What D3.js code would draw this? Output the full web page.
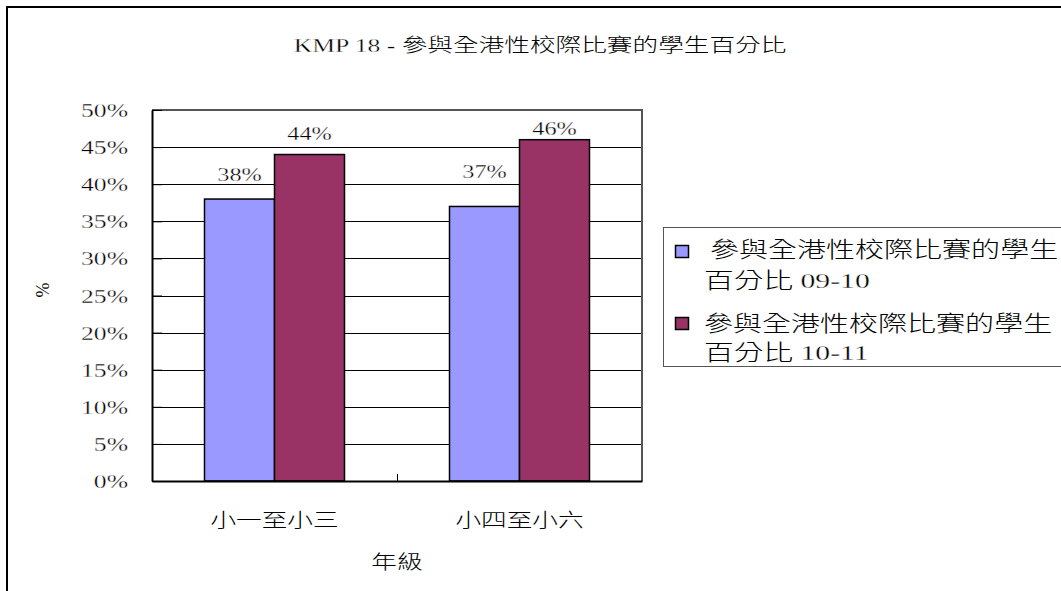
<!DOCTYPE html>
<html>
<head>
<meta charset="utf-8">
<script src="https://cdn.jsdelivr.net/npm/d3@7"></script>
<style>
  body { margin: 0; background: #fff; }
  svg { display: block; }
  text { font-family: "Liberation Serif", "Times New Roman", serif; fill: #000; }
  tspan.lat { stroke: #fff; stroke-width: 0.3px; }
  tspan.cjk { font-family: "Noto Sans CJK TC", sans-serif; font-weight: 300; stroke: none; }
</style>
</head>
<body>
<svg id="chart"></svg>
<script>
// chart data
var categories = ["小一至小三", "小四至小六"];
var seriesNames = ["參與全港性校際比賽的學生百分比 09-10", "參與全港性校際比賽的學生百分比 10-11"];
var values0910 = [0.38, 0.37];
var values1011 = [0.44, 0.46];
var yTicks = [0, 0.05, 0.10, 0.15, 0.20, 0.25, 0.30, 0.35, 0.40, 0.45, 0.50];
var colors = ["#9999ff", "#993366"];

var W = 1061, H = 591;
var plot = { left: 152, right: 642, top: 110, bottom: 481 };
// the original picture is stretched sideways, so every label is too
var sx = 1.35;
// gap between bar top and its value label, [series][category], as in the original
var labelLift = [[18, 28], [15, 5]];

var svg = d3.select("#chart").attr("width", W).attr("height", H);

// put a text at (x, y), stretched horizontally around its anchor;
// chinese runs get the CJK font, the rest stays serif
function label(parent, x, y, str, size, anchor) {
  var g = parent.append("g")
    .attr("transform", "translate(" + x + "," + y + ") scale(" + sx + ",1)");
  var t = g.append("text")
    .attr("text-anchor", anchor || "start")
    .style("font-size", size + "px");
  var runs = str.match(/[\u3000-\u9fff]+|[^\u3000-\u9fff]+/g);
  runs.forEach(function(r) {
    t.append("tspan")
      .attr("class", /[\u3000-\u9fff]/.test(r) ? "cjk" : "lat")
      .text(r);
  });
  return g;
}

// outer chart frame (runs off the right and bottom edges)
svg.append("rect")
  .attr("x", 7).attr("y", 7)
  .attr("width", 1100).attr("height", 620)
  .attr("fill", "#fff")
  .attr("stroke", "#000")
  .attr("stroke-width", 2);

var x = d3.scaleBand()
  .domain(categories)
  .range([plot.left, plot.right])
  .paddingInner(0).paddingOuter(0);

var xs = d3.scaleBand()
  .domain(d3.range(seriesNames.length))
  .range([0, x.bandwidth()])
  .paddingInner(0).paddingOuter(0.75);

var y = d3.scaleLinear()
  .domain([0, 0.5])
  .range([plot.bottom, plot.top]);

var pct = d3.format(".0%");

// gridlines
svg.append("g")
  .selectAll("line")
  .data(yTicks.slice(1, -1))
  .enter()
  .append("line")
    .attr("x1", plot.left).attr("x2", plot.right)
    .attr("y1", function(d) { return Math.round(y(d)) + 0.5; })
    .attr("y2", function(d) { return Math.round(y(d)) + 0.5; })
    .attr("stroke", "#000")
    .attr("stroke-width", 1);

// plot area border (top / right)
svg.append("path")
  .attr("d", "M" + plot.left + "," + plot.top + "H" + plot.right + "V" + plot.bottom)
  .attr("fill", "none")
  .attr("stroke", "#555")
  .attr("stroke-width", 2);

// bars
var series = [values0910, values1011];
var rows = [];
series.forEach(function(vals, si) {
  vals.forEach(function(v, ci) {
    rows.push({ s: si, ci: ci, c: categories[ci], v: v });
  });
});

svg.append("g")
  .selectAll("rect")
  .data(rows)
  .enter()
  .append("rect")
    .attr("x", function(d) { return x(d.c) + xs(d.s); })
    .attr("y", function(d) { return y(d.v); })
    .attr("width", xs.bandwidth())
    .attr("height", function(d) { return plot.bottom - y(d.v); })
    .attr("fill", function(d) { return colors[d.s]; })
    .attr("stroke", "#000")
    .attr("stroke-width", 1.5);

// value labels
var gv = svg.append("g");
rows.forEach(function(d) {
  label(gv, x(d.c) + xs(d.s) + xs.bandwidth() / 2, y(d.v) - labelLift[d.s][d.ci],
        pct(d.v), 18, "middle");
});

// y axis
var yAxis = d3.axisLeft(y)
  .tickValues(yTicks)
  .tickFormat("")
  .tickSize(0);

var gy = svg.append("g")
  .attr("transform", "translate(" + plot.left + ",0)")
  .call(yAxis);
gy.select(".domain").attr("stroke", "#000").attr("stroke-width", 2);

// short inner tick marks on the value axis
gy.selectAll(".tick line")
  .attr("x2", 10)
  .attr("stroke", "#000");

var gyl = svg.append("g");
yTicks.forEach(function(t) {
  label(gyl, plot.left - 24, y(t) + 7, pct(t), 19, "end");
});

// x axis
var xAxis = d3.axisBottom(x).tickSize(0).tickFormat("");
var gx = svg.append("g")
  .attr("transform", "translate(0," + plot.bottom + ")")
  .call(xAxis);
gx.select(".domain").attr("stroke", "#000").attr("stroke-width", 2);

// divider tick between categories
svg.append("line")
  .attr("x1", x(categories[1]) + 0.5).attr("x2", x(categories[1]) + 0.5)
  .attr("y1", plot.bottom - 7).attr("y2", plot.bottom)
  .attr("stroke", "#000");

var gxl = svg.append("g");
categories.forEach(function(c) {
  label(gxl, x(c) + x.bandwidth() / 2, 527, c, 19, "middle");
});

// axis titles
label(svg, (plot.left + plot.right) / 2, 569, "年級", 19, "middle");

svg.append("text")
  .attr("transform", "translate(49,290) rotate(-90)")
  .attr("text-anchor", "middle")
  .style("font-size", "18px")
  .text("%");

// chart title
label(svg, 540, 52, "KMP 18 - 參與全港性校際比賽的學生百分比", 19, "middle");

// legend
var legend = svg.append("g");
legend.append("rect")
  .attr("x", 663.5).attr("y", 227.5)
  .attr("width", 450).attr("height", 139)
  .attr("fill", "#fff")
  .attr("stroke", "#555")
  .attr("stroke-width", 1);

var legendTop = [245, 317];
var legendBase = [[257, 288], [331, 360]];
var legendStart = [[710, 704], [704, 704]];

seriesNames.forEach(function(name, i) {
  legend.append("rect")
    .attr("x", 675.5).attr("y", legendTop[i] + 0.5)
    .attr("width", 13).attr("height", 12)
    .attr("fill", colors[i])
    .attr("stroke", "#000")
    .attr("stroke-width", 1.5);

  var parts = [name.slice(0, 12), name.slice(12)];
  parts.forEach(function(p, j) {
    label(legend, legendStart[i][j], legendBase[i][j], p, j === 0 ? 21.5 : 22);
  });
});
</script>
</body>
</html>
